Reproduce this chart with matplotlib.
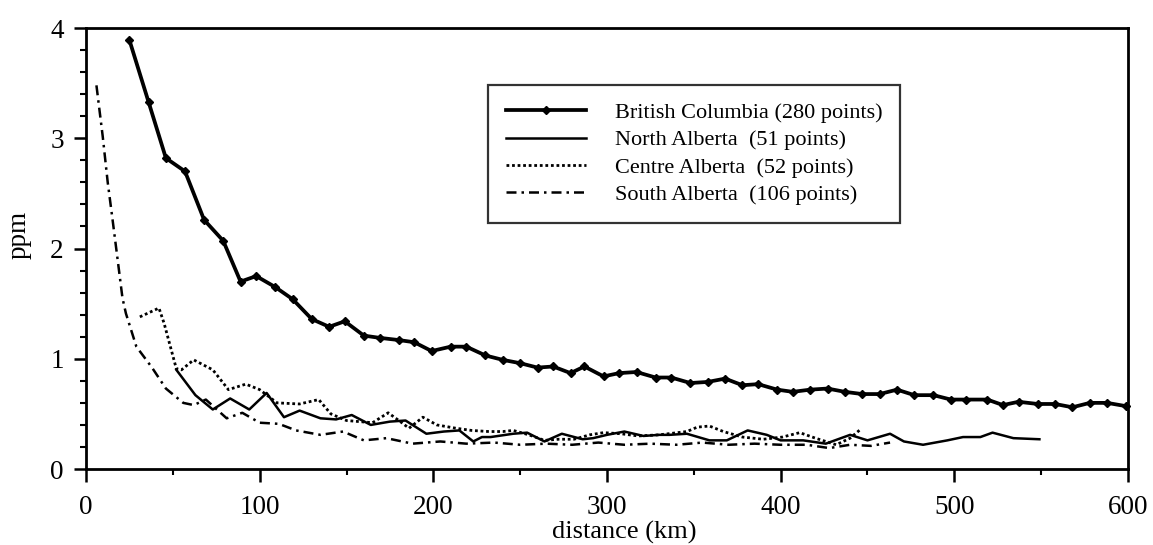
import matplotlib
matplotlib.use("Agg")
import matplotlib.pyplot as plt
from matplotlib.ticker import MultipleLocator

# values
bc_dist = [25, 36, 46, 57, 68, 79, 89, 98, 109, 119, 130, 140, 149, 160, 169, 180, 189, 199, 210, 219,
           230, 240, 250, 260, 269, 279, 287, 298, 307, 317, 328, 337, 348, 358, 368, 378, 387, 398, 407, 417,
           427, 437, 447, 457, 467, 477, 488, 498, 507, 519, 528, 537, 548, 558, 568, 578, 588, 599]
bc_ppm = [3.89, 3.33, 2.82, 2.70, 2.26, 2.07, 1.70, 1.75, 1.65, 1.54, 1.36, 1.29, 1.34, 1.21, 1.19, 1.17, 1.15, 1.07, 1.11, 1.11,
          1.03, 0.99, 0.96, 0.92, 0.93, 0.87, 0.93, 0.84, 0.87, 0.88, 0.83, 0.83, 0.78, 0.79, 0.82, 0.76, 0.77, 0.72, 0.70, 0.72,
          0.73, 0.70, 0.68, 0.68, 0.72, 0.67, 0.67, 0.63, 0.63, 0.63, 0.58, 0.61, 0.59, 0.59, 0.56, 0.60, 0.60, 0.57]

north_dist = [52, 63, 73, 83, 94, 104, 114, 123, 135, 144, 153, 164, 175, 184, 196, 206, 215, 223, 228, 233,
              246, 254, 264, 274, 286, 292, 300, 310, 321, 330, 336, 346, 359, 369, 381, 392, 400, 413, 426, 440,
              450, 463, 471, 482, 496, 505, 515, 522, 534, 549]
north_ppm = [0.90, 0.67, 0.54, 0.64, 0.54, 0.69, 0.47, 0.53, 0.46, 0.45, 0.49, 0.40, 0.43, 0.44, 0.32, 0.34, 0.35, 0.25, 0.29, 0.29,
             0.32, 0.33, 0.25, 0.32, 0.27, 0.28, 0.31, 0.34, 0.30, 0.31, 0.31, 0.32, 0.26, 0.26, 0.35, 0.31, 0.26, 0.26, 0.23, 0.31,
             0.26, 0.32, 0.25, 0.22, 0.26, 0.29, 0.29, 0.33, 0.28, 0.27]

centre_dist = [31, 42, 45, 52, 55, 62, 73, 82, 92, 100, 110, 123, 134, 141, 150, 165, 174, 181, 186, 194,
               202, 213, 222, 232, 240, 246, 255, 264, 272, 281, 290, 298, 308, 318, 330, 346, 352, 359, 367, 378,
               390, 401, 411, 420, 432, 440, 446]
centre_ppm = [1.38, 1.46, 1.32, 0.91, 0.90, 0.99, 0.90, 0.72, 0.77, 0.72, 0.60, 0.59, 0.63, 0.50, 0.44, 0.42, 0.51, 0.43, 0.37, 0.47,
              0.40, 0.37, 0.35, 0.34, 0.34, 0.35, 0.31, 0.26, 0.27, 0.27, 0.31, 0.33, 0.32, 0.30, 0.31, 0.34, 0.38, 0.39, 0.34, 0.29,
              0.27, 0.29, 0.33, 0.28, 0.22, 0.28, 0.36]

south_dist = [6, 9.6, 12.5, 15.3, 18.2, 21, 23, 29, 38, 46, 56, 62, 69, 81, 90, 100, 111, 121, 135, 148,
              160, 173, 188, 204, 219, 235, 250, 265, 280, 295, 310, 325, 340, 355, 370, 385, 400, 415, 428, 440,
              452, 463]
south_ppm = [3.48, 3.02, 2.60, 2.26, 1.90, 1.55, 1.41, 1.11, 0.92, 0.73, 0.60, 0.58, 0.63, 0.46, 0.51, 0.42, 0.41, 0.35, 0.31, 0.34,
             0.26, 0.28, 0.23, 0.25, 0.23, 0.24, 0.22, 0.23, 0.22, 0.24, 0.22, 0.23, 0.22, 0.24, 0.22, 0.23, 0.22, 0.22, 0.19, 0.22,
             0.21, 0.24]

labels = ["British Columbia (280 points)", "North Alberta  (51 points)",
          "Centre Alberta  (52 points)", "South Alberta  (106 points)"]

plt.rcParams["font.family"] = ["Liberation Serif", "DejaVu Serif"]

fig = plt.figure(figsize=(11.53, 5.45), dpi=100)
ax = fig.add_axes([0.0746, 0.1394, 0.9037, 0.8092])

ax.plot(bc_dist, bc_ppm, color="black", lw=2.7, marker="D", ms=3.8, label=labels[0], clip_on=False)
ax.plot(north_dist, north_ppm, color="black", lw=1.8, label=labels[1])
ax.plot(centre_dist, centre_ppm, color="black", lw=2.0, linestyle=(0, (1, 1)), label=labels[2])
ax.plot(south_dist, south_ppm, color="black", lw=1.8, linestyle=(0, (4, 2, 1, 2)), label=labels[3])

ax.set_xlim(0, 600)
ax.set_ylim(0, 4)
ax.xaxis.set_major_locator(MultipleLocator(100))
ax.xaxis.set_minor_locator(MultipleLocator(50))
ax.yaxis.set_major_locator(MultipleLocator(1))
ax.yaxis.set_minor_locator(MultipleLocator(0.2))

for side in ax.spines.values():
    side.set_linewidth(2.0)

ax.tick_params(axis="both", which="major", direction="out", length=9, width=1.8, labelsize=19.5)
ax.tick_params(axis="both", which="minor", direction="out", length=4, width=1.5)
ax.tick_params(axis="x", which="major", pad=10)
ax.tick_params(axis="y", which="major", pad=7)

ax.set_xlabel("distance (km)", fontsize=19)
ax.set_ylabel("ppm", fontsize=19.5)
ax.xaxis.set_label_coords(0.517, -0.118)
ax.yaxis.set_label_coords(-0.052, 0.53)

leg = ax.legend(loc="upper left", bbox_to_anchor=(0.386, 0.871), fontsize=16, frameon=True,
                fancybox=False, edgecolor="black", handlelength=3.6, handletextpad=1.3,
                labelspacing=0.3, borderpad=0.8, borderaxespad=0)
leg.get_frame().set_linewidth(1.6)

fig.savefig("out.png", dpi=100)
